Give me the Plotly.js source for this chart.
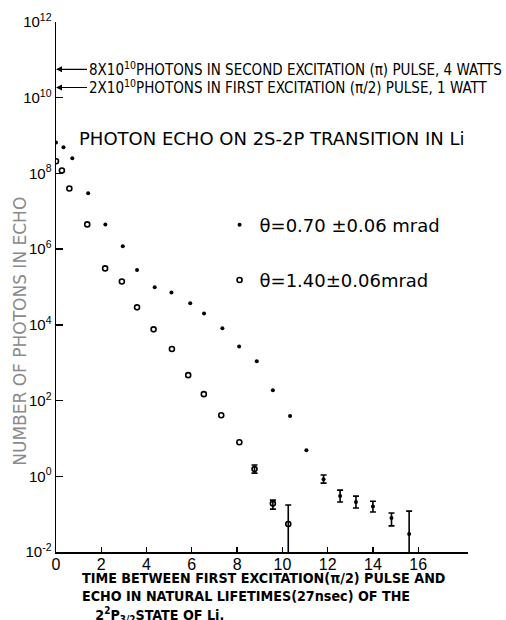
<!DOCTYPE html>
<html>
<head>
<meta charset="utf-8">
<script src="https://cdn.plot.ly/plotly-3.0.1.min.js"></script>
<style>html,body{margin:0;padding:0;background:#fff;}#chart{width:506px;height:620px;}</style>
</head>
<body>
<div id="chart"></div>
<script>
// Series: theta = 0.70 mrad (filled dots)
const xA = [0, 0.33, 0.72, 1.42, 2.18, 2.95, 3.58, 4.36, 5.10, 5.93, 6.54, 7.35, 8.09, 8.87, 9.58, 10.34, 11.06, 11.82, 12.55, 13.25, 14.00, 14.82, 15.60];
const yA = [6.6e8, 4.9e8, 2.5e8, 3.0e7, 4.5e6, 1.2e6, 2.8e5, 9.8e4, 7.2e4, 3.7e4, 2.0e4, 8.1e3, 2.7e3, 1.1e3, 186, 39, 4.9, 0.84, 0.30, 0.21, 0.16, 0.079, 0.030];
const hiA = [null, null, null, null, null, null, null, null, null, null, null, null, null, null, null, null, null, 1.08, 0.43, 0.30, 0.22, 0.107, 0.12];
const loA = [null, null, null, null, null, null, null, null, null, null, null, null, null, null, null, null, null, 0.66, 0.21, 0.145, 0.114, 0.049, 0.005];

// Series: theta = 1.40 mrad (open circles)
const xB = [0, 0.26, 0.59, 1.38, 2.17, 2.91, 3.58, 4.31, 5.12, 5.84, 6.53, 7.30, 8.10, 8.77, 9.58, 10.26];
const yB = [2.1e8, 1.2e8, 4.0e7, 4.5e6, 3.1e5, 1.4e5, 2.9e4, 7.6e3, 2.3e3, 470, 148, 41, 7.9, 1.55, 0.19, 0.055];
const hiB = [null, null, null, null, null, null, null, null, null, null, null, null, null, 1.98, 0.235, 0.174];
const loB = [null, null, null, null, null, null, null, null, null, null, null, null, null, 1.21, 0.136, 0.005];

const nameA = 'θ=0.70 ±0.06 mrad';
const nameB = 'θ=1.40±0.06mrad';
const xTicks = [0, 2, 4, 6, 8, 10, 12, 14, 16];
const yTicks = [1e-2, 1e0, 1e2, 1e4, 1e6, 1e8, 1e10, 1e12];
const yTickText = ['10<sup>-2</sup>', '10<sup>0</sup>', '10<sup>2</sup>', '10<sup>4</sup>', '10<sup>6</sup>', '10<sup>8</sup>', '10<sup>10</sup>', '10<sup>12</sup>'];

function plusOf(y, hi) { return y.map((v, i) => hi[i] == null ? NaN : hi[i] - v); }
function minusOf(y, lo) { return y.map((v, i) => lo[i] == null ? NaN : v - lo[i]); }

const NARROW = 'Liberation Sans Narrow, DejaVu Sans Condensed, Liberation Sans, Arial, sans-serif';
const WIDE = 'DejaVu Sans, Verdana, sans-serif';

const traces = [
  {
    x: xA, y: yA, name: nameA, type: 'scatter', mode: 'markers',
    legendgroup: 'a',
    marker: {symbol: 'circle', size: 4, color: '#000'},
    error_y: {type: 'data', symmetric: false, array: plusOf(yA, hiA), arrayminus: minusOf(yA, loA),
              color: '#000', thickness: 1.6, width: 3}
  },
  {
    x: xB, y: yB, name: nameB, type: 'scatter', mode: 'markers',
    legendgroup: 'b',
    marker: {symbol: 'circle-open', size: 5, color: '#000', line: {width: 1.6, color: '#000'}},
    error_y: {type: 'data', symmetric: false, array: plusOf(yB, hiB), arrayminus: minusOf(yB, loB),
              color: '#000', thickness: 1.6, width: 3}
  }
];

const layout = {
  width: 506, height: 620,
  margin: {l: 56, r: 38, t: 22, b: 68},
  paper_bgcolor: '#fff', plot_bgcolor: '#fff',
  showlegend: true,
  legend: {
    x: 0.397, y: 0.652, xanchor: 'left', yanchor: 'top',
    bgcolor: 'rgba(0,0,0,0)', borderwidth: 0,
    font: {family: WIDE, size: 18, color: '#000'},
    traceorder: 'grouped', tracegroupgap: 29, itemsizing: 'trace'
  },
  xaxis: {
    range: [0, 18.2], showgrid: false, zeroline: false,
    showline: true, linecolor: '#000', linewidth: 1.5,
    ticks: 'inside', ticklen: 5, tickwidth: 1.3, tickcolor: '#000',
    tickvals: xTicks, ticktext: xTicks.map(String), ticklabelstandoff: -3,
    tickfont: {family: 'Liberation Sans, Arial, sans-serif', size: 16, color: '#000'}
  },
  yaxis: {
    type: 'log', range: [-2, 12], showgrid: false, zeroline: false,
    showline: true, linecolor: '#000', linewidth: 1.5,
    ticks: 'inside', ticklen: 7, tickwidth: 1.3, tickcolor: '#000',
    tickvals: yTicks, ticktext: yTickText,
    tickfont: {family: 'Liberation Sans, Arial, sans-serif', size: 15, color: '#000'}
  },
  annotations: [
    {x: 0, y: 10.75, xref: 'x', yref: 'y', showarrow: true, ax: 31, ay: 0, xanchor: 'left',
     arrowhead: 2, arrowsize: 1, arrowwidth: 1.2, arrowcolor: '#000',
     text: '8X10<sup>10</sup>PHOTONS IN SECOND EXCITATION (π) PULSE, 4 WATTS',
     font: {family: NARROW, size: 15, color: '#000'}},
    {x: 0, y: 10.27, xref: 'x', yref: 'y', showarrow: true, ax: 31, ay: 0, xanchor: 'left',
     arrowhead: 2, arrowsize: 1, arrowwidth: 1.2, arrowcolor: '#000',
     text: '2X10<sup>10</sup>PHOTONS IN FIRST EXCITATION (π/2) PULSE, 1 WATT',
     font: {family: NARROW, size: 15, color: '#000'}},
    {x: 0.051, y: 0.781, xref: 'paper', yref: 'paper', showarrow: false, xanchor: 'left', yanchor: 'middle',
     text: 'PHOTON ECHO ON 2S-2P TRANSITION IN Li',
     font: {family: WIDE, size: 18, color: '#000'}},
    {x: -0.088, y: 0.417, xref: 'paper', yref: 'paper', showarrow: false, textangle: -90,
     xanchor: 'center', yanchor: 'middle',
     text: 'NUMBER OF PHOTONS IN ECHO',
     font: {family: WIDE, size: 17, color: '#8a8a8a'}},
    {x: 0.058, y: -0.03, xref: 'paper', yref: 'paper', showarrow: false, xanchor: 'left', yanchor: 'top',
     align: 'left',
     text: '<b>TIME BETWEEN FIRST EXCITATION(π/2) PULSE AND<br>ECHO IN NATURAL LIFETIMES(27nsec) OF THE<br>&nbsp;&nbsp;&nbsp;2<sup>2</sup>P<sub>3/2</sub>STATE OF Li.</b>',
     font: {family: NARROW, size: 14.2, color: '#000'}}
  ]
};

Plotly.newPlot('chart', traces, layout, {displayModeBar: false, staticPlot: true});
</script>
</body>
</html>
